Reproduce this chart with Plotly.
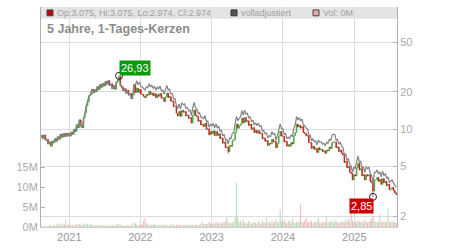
import math
import pandas as pd
import plotly.graph_objects as go

# ---------------- data ----------------
start_date = "2020-08-10"          # first weekly candle
x_range = ["2020-08-09", "2025-08-08"]

closes = [
    8.9, 8.4, 9.0, 8.2, 8.3, 7.6, 7.9, 7.3, 8.0, 7.8,
    8.4, 8.0, 8.7, 8.3, 9.1, 8.6, 9.2, 8.7, 9.3, 8.8,
    9.2, 8.8, 9.5, 9.1, 10.0, 9.6, 10.9, 10.3, 11.9, 10.6,
    10.3, 12.4, 13.6, 15.4, 16.6, 18.6, 19.0, 21.0, 19.6, 20.8,
    20.0, 22.0, 20.9, 22.9, 21.8, 23.4, 22.3, 24.2, 23.0, 24.6,
    22.6, 23.2, 21.2, 22.4, 21.0, 23.8, 24.6, 26.6, 22.4, 21.8,
    20.4, 21.2, 19.5, 20.6, 18.9, 19.4, 17.6, 18.9, 22.8, 19.8,
    21.4, 19.8, 20.9, 19.2, 19.0, 18.4, 18.0, 19.1, 18.8, 20.2,
    19.1, 19.6, 18.6, 19.3, 17.9, 19.0, 18.4, 19.4, 17.8, 17.9,
    16.7, 18.2, 19.6, 18.0, 18.3, 16.8, 16.9, 15.2, 15.3, 13.5,
    12.8, 13.9, 12.7, 14.2, 13.7, 13.9, 12.8, 13.0, 12.2, 12.4,
    11.2, 12.9, 14.3, 12.9, 12.7, 11.6, 11.8, 10.8, 10.9, 10.5,
    11.2, 10.0, 10.1, 9.0, 9.6, 9.2, 9.7, 8.9, 9.6, 8.9,
    9.2, 8.4, 8.5, 7.7, 7.9, 7.1, 7.2, 6.6, 7.4, 7.3,
    8.1, 8.2, 9.4, 11.0, 10.2, 10.7, 11.0, 12.3, 11.3, 12.4,
    11.5, 11.7, 10.7, 11.0, 10.0, 10.3, 9.4, 9.8, 9.3, 9.7,
    9.2, 9.3, 8.4, 8.5, 8.0, 8.1, 7.4, 7.7, 7.6, 8.3,
    7.9, 8.0, 7.1, 7.7, 8.8, 9.6, 8.8, 8.8, 7.9, 8.0,
    7.3, 7.5, 7.3, 7.8, 7.6, 8.9, 9.4, 11.0, 10.4, 10.7,
    10.2, 10.5, 9.4, 9.3, 8.9, 8.8, 7.8, 7.8, 7.0, 7.3,
    6.9, 7.0, 6.5, 7.1, 6.8, 6.9, 6.6, 6.7, 6.4, 6.8,
    6.7, 7.2, 7.0, 7.8, 7.9, 7.9, 7.1, 7.2, 6.6, 6.8,
    6.4, 6.2, 5.4, 5.5, 4.9, 5.0, 4.5, 4.4, 3.9, 4.3,
    4.2, 4.9, 5.3, 4.7, 4.8, 4.2, 4.3, 3.9, 4.3, 4.2,
    4.3, 3.8, 3.7, 3.18, 3.9, 3.9, 4.1, 3.8, 3.95, 3.6,
    4.0, 3.7, 3.8, 3.5, 3.6, 3.25, 3.3, 3.4, 3.2, 3.075, 2.974,
]
first_open = 8.7

# wick extremes (week index -> value)
wick_high = {57: 26.93}
wick_low = {137: 6.35, 243: 2.85}

volumes_m = [
    0.1, 0.2, 0.1, 0.3, 0.2, 0.2, 0.5, 0.3, 0.2, 0.4,
    0.3, 0.6, 0.4, 0.8, 0.5, 0.4, 0.9, 0.6, 1.7, 0.5,
    0.4, 0.6, 0.3, 0.5, 0.4, 0.7, 0.5, 0.6, 0.8, 0.6,
    0.5, 0.7, 0.9, 0.6, 0.8, 0.5, 0.7, 0.6, 0.4, 0.5,
    0.3, 0.5, 0.4, 0.6, 0.3, 0.4, 0.5, 0.3, 0.4, 0.3,
    0.4, 0.3, 0.5, 0.3, 0.4, 0.5, 0.7, 0.8, 0.5, 0.4,
    0.3, 0.4, 0.3, 0.5, 0.3, 0.4, 0.6, 0.5, 1.2, 0.9,
    0.6, 0.5, 0.4, 0.7, 0.6, 1.5, 2.2, 1.0, 0.6, 0.5,
    0.4, 0.6, 0.5, 0.8, 0.4, 0.5, 0.3, 0.6, 0.4, 0.5,
    0.6, 0.4, 0.5, 0.3, 0.4, 0.6, 0.5, 0.7, 0.4, 0.5,
    0.6, 0.4, 0.5, 0.3, 0.5, 0.4, 0.6, 0.5, 0.4, 0.6,
    0.5, 0.7, 0.4, 0.5, 0.6, 0.4, 0.5, 0.8, 1.2, 0.6,
    0.9, 0.7, 0.8, 1.3, 0.7, 0.9, 1.1, 0.8, 1.4, 1.0,
    0.8, 1.1, 0.9, 1.3, 1.0, 1.6, 2.5, 1.2, 0.9, 1.1,
    1.0, 1.4, 2.5, 11.1, 2.4, 1.3, 1.6, 1.1, 1.8, 1.0,
    1.2, 0.9, 1.5, 1.1, 0.8, 1.3, 1.0, 1.2, 0.9, 1.4,
    1.1, 0.8, 1.6, 1.0, 1.2, 2.3, 1.0, 1.3, 0.9, 1.5,
    1.1, 1.4, 1.8, 1.0, 1.2, 4.3, 1.4, 1.1, 1.7, 1.2,
    1.0, 1.6, 1.3, 1.1, 1.9, 1.2, 1.0, 1.4, 1.1, 1.5,
    5.8, 1.3, 1.1, 1.6, 2.2, 1.0, 1.4, 1.2, 1.5, 1.0,
    1.3, 1.1, 1.6, 2.4, 1.2, 1.0, 1.4, 1.1, 1.3, 2.6,
    1.2, 1.0, 1.5, 1.3, 1.1, 1.8, 1.2, 1.4, 1.0, 1.3,
    1.2, 1.5, 1.1, 1.9, 1.4, 2.1, 1.3, 3.8, 1.6, 1.2,
    1.4, 1.1, 1.7, 1.3, 1.2, 1.5, 1.0, 1.8, 1.3, 1.1,
    1.4, 1.6, 2.2, 2.9, 1.5, 1.2, 1.4, 1.1, 3.1, 1.3,
    1.2, 1.5, 1.1, 1.4, 4.6, 1.3, 1.2, 1.6, 1.1, 1.3, 1.0,
]

adj_factor = 1.15       # "volladjustiert" offset after the corporate action
adj_from_week = 69

price_ticks = [2, 5, 10, 20, 50]
vol_ticks = [0, 5, 10, 15]
vol_tick_text = ["0M", "5M", "10M", "15M"]

title_text = "5 Jahre, 1-Tages-Kerzen"
legend_ohlc = "Op:3.075, Hi:3.075, Lo:2.974, Cl:2.974"
legend_adj = "volladjustiert"
legend_vol = "Vol: 0M"
high_week, high_label = 57, "26,93"
low_week, low_label = 243, "2,85"

# ---------------- build ----------------
n = len(closes)
dates = pd.date_range(start_date, periods=n, freq="7D")
opens = [first_open] + closes[:-1]
highs = [max(o, c) for o, c in zip(opens, closes)]
lows = [min(o, c) for o, c in zip(opens, closes)]
for k, v in wick_high.items():
    highs[k] = v
for k, v in wick_low.items():
    lows[k] = v
adj = [c * (adj_factor if i >= adj_from_week else 1.0) for i, c in enumerate(closes)]

GREEN = "#3aa834"
RED = "#c81414"
vol_colors = ["rgba(120,205,120,0.6)" if c >= o else "rgba(240,130,150,0.65)"
              for o, c in zip(opens, closes)]

W, H = 450, 250
L, R, T, B = 41, 53, 7, 18
PW, PH = W - L - R, H - T - B


def px_x(px):
    return (px - L) / PW


def px_y(py):
    return (H - B - py) / PH


FONT = "Liberation Sans, Arial, sans-serif"

fig = go.Figure()
fig.add_trace(go.Bar(x=dates, y=volumes_m, marker_color=vol_colors, marker_line_width=0,
                     yaxis="y2", showlegend=False, hoverinfo="skip"))
fig.add_trace(go.Scatter(x=dates, y=adj, mode="lines", line=dict(color="#828282", width=1.2),
                         showlegend=False, hoverinfo="skip"))
fig.add_trace(go.Candlestick(x=dates, open=opens, high=highs, low=lows, close=closes,
                             increasing=dict(line=dict(color=GREEN, width=0.7), fillcolor=GREEN),
                             decreasing=dict(line=dict(color=RED, width=0.7), fillcolor=RED),
                             whiskerwidth=0, showlegend=False))
fig.add_trace(go.Scatter(x=[dates[high_week], dates[low_week]],
                         y=[wick_high[high_week], wick_low[low_week]],
                         mode="markers",
                         marker=dict(symbol="circle-open", size=7, color="#222",
                                     line=dict(width=1)),
                         showlegend=False, hoverinfo="skip"))

shapes = [
    dict(type="rect", xref="paper", yref="paper", x0=0, x1=1, y0=px_y(19), y1=1,
         fillcolor="#e4e4e4", line_width=0, layer="below"),
    dict(type="rect", xref="paper", yref="paper", x0=px_x(47), x1=px_x(53),
         y0=px_y(16), y1=px_y(10), fillcolor="#c00000", line=dict(color="#444", width=1)),
    dict(type="rect", xref="paper", yref="paper", x0=px_x(231), x1=px_x(237),
         y0=px_y(16), y1=px_y(10), fillcolor="#555555", line=dict(color="#333", width=1)),
    dict(type="rect", xref="paper", yref="paper", x0=px_x(313), x1=px_x(319),
         y0=px_y(16), y1=px_y(10), fillcolor="#f2a4ae", line=dict(color="#444", width=1)),
]

ann = [
    dict(text=legend_ohlc, x=px_x(55), y=px_y(13)),
    dict(text=legend_adj, x=px_x(239), y=px_y(13)),
    dict(text=legend_vol, x=px_x(321), y=px_y(13)),
]
annotations = [dict(xref="paper", yref="paper", xanchor="left", yanchor="middle",
                    showarrow=False, font=dict(size=9, color="#a0a0a0", family=FONT), **a)
               for a in ann]
annotations.append(dict(text="<b>" + title_text + "</b>", xref="paper", yref="paper",
                        x=px_x(45), y=px_y(29), xanchor="left", yanchor="middle",
                        showarrow=False, font=dict(size=12.5, color="#8c8c8c", family=FONT)))
annotations.append(dict(text=high_label, x=dates[high_week], y=math.log10(wick_high[high_week]),
                        xref="x", yref="y", showarrow=False, xshift=16, yshift=8,
                        bgcolor="#0a9a0a", borderpad=1,
                        font=dict(size=11, color="white", family=FONT)))
annotations.append(dict(text=low_label, x=dates[low_week], y=math.log10(wick_low[low_week]),
                        xref="x", yref="y", showarrow=False, xshift=-12, yshift=-9,
                        bgcolor="#cc0000", borderpad=1,
                        font=dict(size=11, color="white", family=FONT)))

y_lo = 1 - (232 - 132) / 127.0
y_hi = 1 + (132 - 7) / 127.0

fig.update_layout(
    width=W, height=H,
    margin=dict(l=L, r=R, t=T, b=B, pad=0),
    paper_bgcolor="white", plot_bgcolor="rgba(0,0,0,0)",
    font=dict(family=FONT, color="#999"),
    bargap=0.3,
    shapes=shapes, annotations=annotations,
    xaxis=dict(type="date", range=x_range, rangeslider=dict(visible=False),
               showgrid=True, gridcolor="#dcdcdc", gridwidth=1,
               tick0="2021-01-01", dtick="M12", tickformat="%Y",
               ticks="", showline=True, linecolor="#cfcfcf",
               tickfont=dict(size=11, color="#999"), fixedrange=True),
    yaxis=dict(type="log", side="right", range=[y_lo, y_hi], tickvals=price_ticks,
               ticktext=[str(v) for v in price_ticks],
               showgrid=True, gridcolor="#dcdcdc", zeroline=False,
               showline=True, linecolor="#b0b0b0", ticks="inside", ticklen=4,
               tickcolor="#b0b0b0", tickfont=dict(size=11, color="#aaa")),
    yaxis2=dict(overlaying="y", side="left", range=[0, 225 / 4.067],
                tickvals=vol_ticks, ticktext=vol_tick_text, showgrid=False, zeroline=False,
                showline=True, linecolor="#b0b0b0", ticks="inside", ticklen=4,
                tickcolor="#b0b0b0", tickfont=dict(size=11, color="#aaa")),
)

fig.write_html("out.html")
